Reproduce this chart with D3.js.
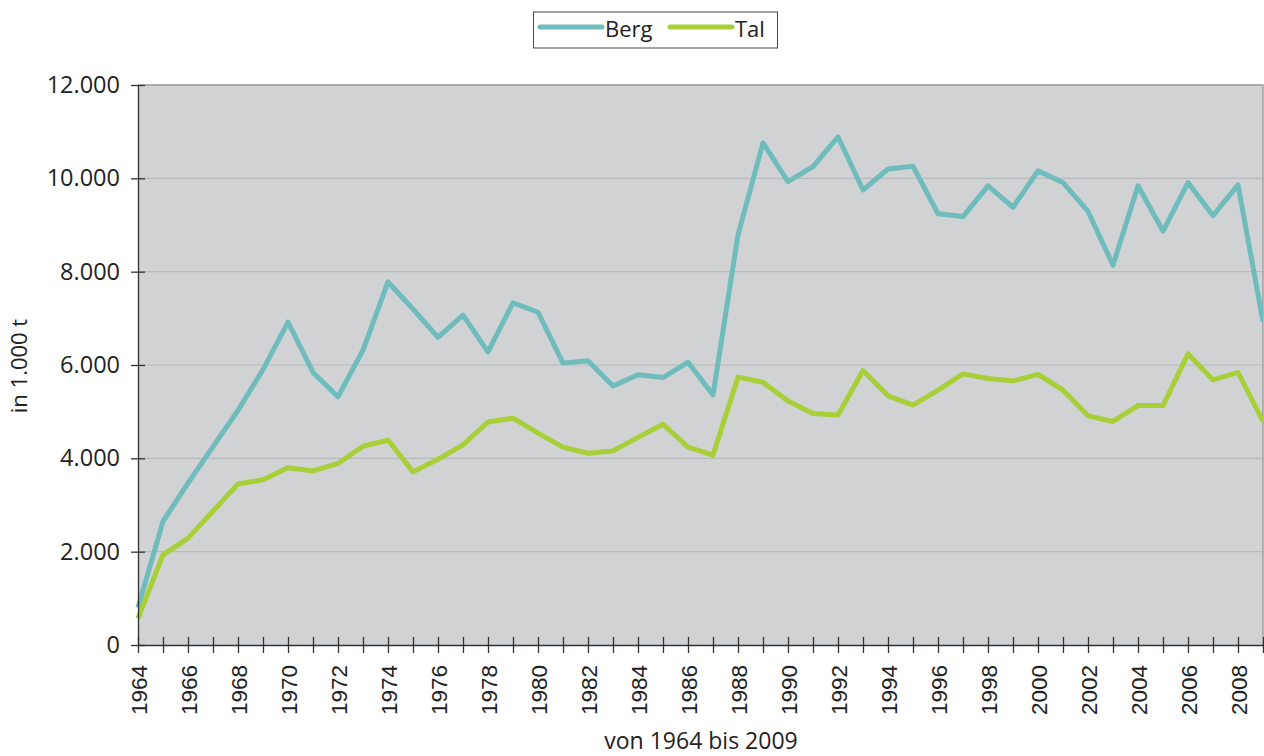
<!DOCTYPE html>
<html>
  <head>
    <meta charset="UTF-8">
    <title>Berg / Tal</title>
    <style>
      body { margin: 0; background: #fff; }
      .grid line { stroke: #b9babc; stroke-width: 1.2px; }
      .axis path, .axis line { stroke: #333; stroke-width: 1.3px; }
      .ytick text { font: 23.5px "Open Sans", sans-serif; fill: #222; }
      .xtick text { font: 22.5px "Liberation Sans", Arial, sans-serif; fill: #222; }
      .title { font: 22px "Open Sans", sans-serif; fill: #222; }
      .series { fill: none; stroke-width: 5px; stroke-linejoin: round; }
    </style>
    <script src="https://cdn.jsdelivr.net/npm/d3@7"></script>
  </head>
  <body>
    <script>
      // Years on the x axis
      var years = d3.range(1964, 2010);

      // Values in 1.000 t
      var berg = [800, 2650, 3470, 4250, 5030, 5900, 6920, 5840, 5320, 6320,
                  7780, 7200, 6590, 7070, 6280, 7330, 7130, 6040, 6090, 5550,
                  5790, 5730, 6060, 5360, 8790, 10760, 9930, 10250, 10890, 9750,
                  10200, 10260, 9240, 9180, 9840, 9380, 10160, 9910, 9290, 8140,
                  9840, 8870, 9910, 9200, 9860, 6930];
      var tal = [570, 1930, 2290, 2870, 3450, 3540, 3800, 3730, 3890, 4260,
                 4390, 3710, 3980, 4290, 4780, 4860, 4540, 4240, 4110, 4160,
                 4450, 4730, 4240, 4070, 5740, 5630, 5230, 4960, 4930, 5880,
                 5340, 5140, 5460, 5810, 5710, 5660, 5800, 5460, 4910, 4790,
                 5130, 5130, 6240, 5680, 5840, 4790];

      var seriesNames = ["Berg", "Tal"];
      var seriesColors = ["#6fbcbd", "#a8cf38"];
      var yTicks = [0, 2000, 4000, 6000, 8000, 10000, 12000];
      var xLabelYears = d3.range(1964, 2009, 2);

      var width = 1264, height = 756;
      var plot = {left: 138, right: 1263, top: 85, bottom: 645};

      var de = d3.formatLocale({decimal: ",", thousands: ".", grouping: [3], currency: ["", " €"]});
      var fmt = de.format(",");

      var x = d3.scaleLinear().domain([1964, 2009]).range([plot.left, plot.right]);
      var y = d3.scaleLinear().domain([0, 12000]).range([plot.bottom, plot.top]);

      var svg = d3.select("body").append("svg")
          .attr("width", width)
          .attr("height", height);

      // plot background
      svg.append("rect")
          .attr("x", plot.left)
          .attr("y", plot.top)
          .attr("width", plot.right - plot.left)
          .attr("height", plot.bottom - plot.top)
          .attr("fill", "#d1d2d4");

      // horizontal grid
      svg.append("g").attr("class", "grid")
          .selectAll("line")
          .data(yTicks.slice(1))
          .enter().append("line")
          .attr("x1", plot.left).attr("x2", plot.right)
          .attr("y1", function(d) { return y(d); })
          .attr("y2", function(d) { return y(d); });

      // top and right frame
      svg.append("path")
          .attr("d", "M" + plot.left + "," + plot.top + "H" + plot.right + "V" + plot.bottom)
          .attr("fill", "none")
          .attr("stroke", "#9d9ea0")
          .attr("stroke-width", 1.5);

      // series lines
      var line = d3.line()
          .x(function(d, i) { return x(years[i]); })
          .y(function(d) { return y(d); });

      svg.append("defs").append("clipPath").attr("id", "clip")
          .append("rect")
          .attr("x", plot.left - 3).attr("y", 0)
          .attr("width", plot.right - plot.left + 3).attr("height", height);

      [berg, tal].forEach(function(values, k) {
          svg.append("path")
              .attr("class", "series")
              .attr("clip-path", "url(#clip)")
              .attr("stroke", seriesColors[k])
              .attr("d", line(values));
      });

      // y axis
      var yAxis = d3.axisLeft(y)
          .tickValues(yTicks)
          .tickFormat(fmt)
          .tickSizeInner(7)
          .tickSizeOuter(0)
          .tickPadding(11);
      var yg = svg.append("g")
          .attr("class", "axis ytick")
          .attr("transform", "translate(" + plot.left + ",0)")
          .call(yAxis);
      yg.selectAll(".tick line").attr("x1", 7);

      // x axis
      var xAxis = d3.axisBottom(x)
          .tickValues(years)
          .tickFormat(function(d) { return xLabelYears.indexOf(d) >= 0 ? d : ""; })
          .tickSizeInner(8)
          .tickSizeOuter(0);
      var xg = svg.append("g")
          .attr("class", "axis xtick")
          .attr("transform", "translate(0," + plot.bottom + ")")
          .call(xAxis);
      xg.selectAll(".tick line").attr("y1", -8);
      xg.selectAll(".tick text")
          .attr("transform", "rotate(-90)")
          .attr("text-anchor", "end")
          .attr("x", -20)
          .attr("y", 0)
          .attr("dy", "0.36em");

      // axis titles
      svg.append("text")
          .attr("class", "title")
          .style("font-size", "23px")
          .attr("x", 701)
          .attr("y", 749)
          .attr("text-anchor", "middle")
          .text("von 1964 bis 2009");

      svg.append("text")
          .attr("class", "title")
          .attr("transform", "translate(27," + 366 + ") rotate(-90)")
          .attr("text-anchor", "middle")
          .text("in 1.000 t");

      // legend
      var legend = svg.append("g");
      legend.append("rect")
          .attr("x", 533.5).attr("y", 12)
          .attr("width", 244).attr("height", 36)
          .attr("fill", "#fff")
          .attr("stroke", "#444")
          .attr("stroke-width", 1);
      var legendX = [540, 670];
      seriesNames.forEach(function(name, k) {
          legend.append("line")
              .attr("x1", legendX[k]).attr("x2", legendX[k] + 62)
              .attr("y1", 27).attr("y2", 27)
              .attr("stroke", seriesColors[k])
              .attr("stroke-width", 5)
              .attr("stroke-linecap", "round");
          legend.append("text")
              .attr("class", "title")
              .attr("x", legendX[k] + 65)
              .attr("y", 37)
              .text(name);
      });
    </script>
  </body>
</html>
